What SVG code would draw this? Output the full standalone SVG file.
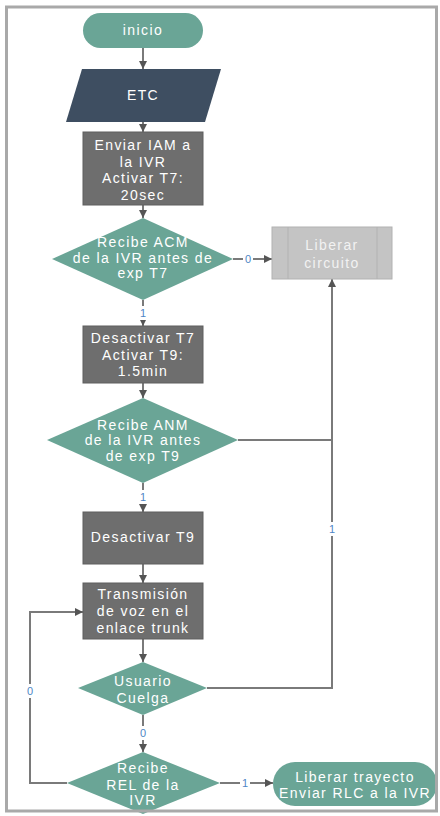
<svg xmlns="http://www.w3.org/2000/svg" width="440" height="816" viewBox="0 0 440 816">
<defs>
<marker id="arr" viewBox="0 0 10 10" refX="10" refY="5" markerWidth="8" markerHeight="8" markerUnits="userSpaceOnUse" orient="auto">
<path d="M0,0 L10,5 L0,10 z" fill="#555"/>
</marker>
<style>
.t{font-family:"Liberation Sans",Arial,sans-serif;font-size:14px;fill:#fff;text-anchor:middle;letter-spacing:1.4px}
.teal{fill:#6aa596}
.proc{fill:#6e6e6e;stroke:#5e5e5e;stroke-width:1}
.c{fill:none;stroke:#7a7a7a;stroke-width:2}
.lb{font-family:"Liberation Sans",Arial,sans-serif;font-size:11px;fill:#4f86c6;text-anchor:middle}
.lbg{fill:#fff}
</style>
</defs>
<rect x="0" y="0" width="440" height="816" fill="#fff"/>
<g id="connectors">
<line class="c" x1="143" y1="48" x2="143" y2="69" marker-end="url(#arr)"/>
<line class="c" x1="143" y1="122" x2="143" y2="132" marker-end="url(#arr)"/>
<line class="c" x1="143" y1="205" x2="143" y2="218" marker-end="url(#arr)"/>
<line class="c" x1="233" y1="259" x2="272" y2="259" marker-end="url(#arr)"/>
<line class="c" x1="143" y1="300" x2="143" y2="326" marker-end="url(#arr)"/>
<line class="c" x1="143" y1="383" x2="143" y2="398" marker-end="url(#arr)"/>
<polyline class="c" points="238,440 332,440 332,279" marker-end="url(#arr)"/>
<polyline class="c" points="207,688 332,688 332,440"/>
<line class="c" x1="143" y1="483" x2="143" y2="512" marker-end="url(#arr)"/>
<line class="c" x1="143" y1="564" x2="143" y2="583" marker-end="url(#arr)"/>
<line class="c" x1="143" y1="639" x2="143" y2="662" marker-end="url(#arr)"/>
<line class="c" x1="143" y1="715" x2="143" y2="752" marker-end="url(#arr)"/>
<polyline class="c" points="67,783 30,783 30,612 83,612" marker-end="url(#arr)"/>
<line class="c" x1="220" y1="783" x2="273" y2="783" marker-end="url(#arr)"/>
<rect class="lbg" x="243" y="252" width="10" height="14"/><text class="lb" x="248" y="263">0</text>
<rect class="lbg" x="138" y="306" width="10" height="14"/><text class="lb" x="143" y="317">1</text>
<rect class="lbg" x="138" y="490" width="10" height="14"/><text class="lb" x="143" y="501">1</text>
<rect class="lbg" x="327" y="522" width="10" height="14"/><text class="lb" x="332" y="533">1</text>
<rect class="lbg" x="138" y="726" width="10" height="14"/><text class="lb" x="143" y="737">0</text>
<rect class="lbg" x="25" y="684" width="10" height="14"/><text class="lb" x="30" y="695">0</text>
<rect class="lbg" x="240" y="776" width="10" height="14"/><text class="lb" x="245" y="787">1</text>
</g>
<g id="inicio">
<rect class="teal" x="83" y="13" width="120" height="35" rx="17.5"/>
<text class="t" x="143" y="35">inicio</text>
</g>
<g id="etc">
<polygon points="82,69 221,69 205,122 66,122" fill="#3e4e61"/>
<text class="t" x="143" y="100">ETC</text>
</g>
<g id="enviar-iam">
<rect class="proc" x="83" y="132" width="120" height="73"/>
<text class="t" x="143" y="150">Enviar IAM a</text>
<text class="t" x="143" y="167">la IVR</text>
<text class="t" x="143" y="183">Activar T7:</text>
<text class="t" x="143" y="200">20sec</text>
</g>
<g id="recibe-acm">
<polygon class="teal" points="143,218 233,259 143,300 52,259"/>
<text class="t" x="143" y="247">Recibe ACM</text>
<text class="t" x="143" y="263">de la IVR antes de</text>
<text class="t" x="143" y="278">exp T7</text>
</g>
<g id="liberar-circuito">
<rect x="272" y="227" width="120" height="52" fill="#c4c4c4" stroke="#b2b2b2" stroke-width="1"/>
<line x1="288" y1="227" x2="288" y2="279" stroke="#b2b2b2" stroke-width="1"/>
<line x1="377" y1="227" x2="377" y2="279" stroke="#b2b2b2" stroke-width="1"/>
<text class="t" x="332" y="250" style="fill:#f2f2f2">Liberar</text>
<text class="t" x="332" y="268" style="fill:#f2f2f2">circuito</text>
</g>
<g id="desactivar-t7">
<rect class="proc" x="83" y="326" width="120" height="57"/>
<text class="t" x="143" y="343">Desactivar T7</text>
<text class="t" x="143" y="360">Activar T9:</text>
<text class="t" x="143" y="376">1.5min</text>
</g>
<g id="recibe-anm">
<polygon class="teal" points="143,398 238,440 143,483 47,440"/>
<text class="t" x="143" y="430">Recibe ANM</text>
<text class="t" x="143" y="445">de la IVR antes</text>
<text class="t" x="143" y="461">de exp T9</text>
</g>
<g id="desactivar-t9">
<rect class="proc" x="83" y="512" width="120" height="52"/>
<text class="t" x="143" y="542">Desactivar T9</text>
</g>
<g id="transmision">
<rect class="proc" x="83" y="583" width="120" height="56"/>
<text class="t" x="143" y="599">Transmisión</text>
<text class="t" x="143" y="616">de voz en el</text>
<text class="t" x="143" y="633">enlace trunk</text>
</g>
<g id="usuario-cuelga">
<polygon class="teal" points="143,662 207,688 143,715 78,688"/>
<text class="t" x="143" y="686">Usuario</text>
<text class="t" x="143" y="703">Cuelga</text>
</g>
<g id="recibe-rel">
<polygon class="teal" points="143,752 220,783 143,814 67,783"/>
<text class="t" x="143" y="773">Recibe</text>
<text class="t" x="143" y="790">REL de la</text>
<text class="t" x="143" y="805">IVR</text>
</g>
<g id="liberar-trayecto">
<rect class="teal" x="273" y="762" width="164" height="44" rx="22"/>
<text class="t" x="355" y="782">Liberar trayecto</text>
<text class="t" x="355" y="798">Enviar RLC a la IVR</text>
</g>
<g id="frame">
<rect x="6.5" y="7" width="430" height="804" fill="none" stroke="#a9a9a9" stroke-width="3"/>
</g>
</svg>
